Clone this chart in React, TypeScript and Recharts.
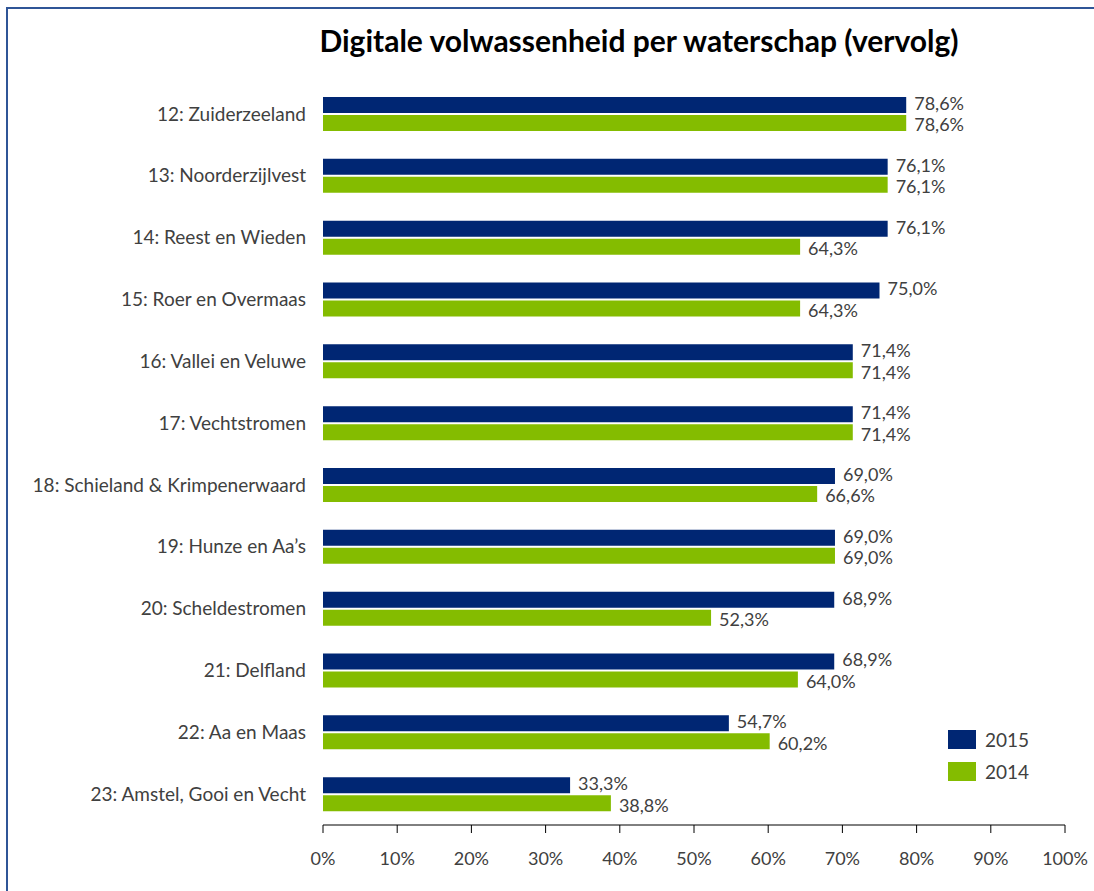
import React from 'react';
import {
  BarChart,
  Bar,
  XAxis,
  YAxis,
  LabelList
} from 'recharts';

const CATEGORIES = [
  '12: Zuiderzeeland',
  '13: Noorderzijlvest',
  '14: Reest en Wieden',
  '15: Roer en Overmaas',
  '16: Vallei en Veluwe',
  '17: Vechtstromen',
  '18: Schieland & Krimpenerwaard',
  '19: Hunze en Aa’s',
  '20: Scheldestromen',
  '21: Delfland',
  '22: Aa en Maas',
  '23: Amstel, Gooi en Vecht',
];

const VALUES_2015 = [78.6, 76.1, 76.1, 75.0, 71.4, 71.4, 69.0, 69.0, 68.9, 68.9, 54.7, 33.3];
const VALUES_2014 = [78.6, 76.1, 64.3, 64.3, 71.4, 71.4, 66.6, 69.0, 52.3, 64.0, 60.2, 38.8];

const X_TICKS = [0, 10, 20, 30, 40, 50, 60, 70, 80, 90, 100];

const SERIES = [
  { key: 'y2015', label: '2015' },
  { key: 'y2014', label: '2014' },
];

const NAVY = '#002673';
const GREEN = '#84bc00';
const TEXT = '#404040';
const FONT = 'Lato, "Open Sans", sans-serif';

const fmtPct = (v: number) => `${v.toFixed(1).replace('.', ',')}%`;

const chartData = CATEGORIES.map((name, i) => ({
  name,
  y2015: VALUES_2015[i],
  y2014: VALUES_2014[i],
}));

const colorOf = (key: string) => (key === 'y2015' ? NAVY : GREEN);

const App: React.FC = () => {
  return (
    <div
      style={{
        position: 'fixed',
        left: 0,
        top: 0,
        width: 1094,
        height: 891,
        overflow: 'hidden',
        background: '#ffffff',
      }}
    >
      {/* frame, only left and top edges are visible */}
      <div
        style={{
          position: 'absolute',
          left: 6,
          top: 7,
          width: 1200,
          height: 1000,
          borderLeft: '2px solid #2f5597',
          borderTop: '2px solid #2f5597',
        }}
      />
      <div
        style={{
          position: 'absolute',
          left: 239,
          top: 22,
          width: 800,
          textAlign: 'center',
          fontFamily: FONT,
          fontWeight: 700,
          fontSize: 30,
          color: '#000000',
        }}
      >
        Digitale volwassenheid per waterschap (vervolg)
      </div>
      <div style={{ position: 'absolute', left: 0, top: 0 }}>
        <BarChart
          width={1094}
          height={891}
          data={chartData}
          layout="vertical"
          margin={{ top: 83, right: 29, left: 0, bottom: 26 }}
          barSize={16}
          barGap={2}
        >
          <XAxis
            type="number"
            domain={[0, 100]}
            ticks={X_TICKS}
            tickFormatter={(v) => `${v}%`}
            axisLine={{ stroke: '#000000' }}
            tickLine={{ stroke: '#000000' }}
            tickSize={8}
            tickMargin={19}
            height={40}
            tick={{ fill: TEXT, fontSize: 18, fontFamily: FONT }}
          />
          <YAxis
            type="category"
            dataKey="name"
            width={323}
            axisLine={false}
            tickLine={false}
            tickSize={0}
            tickMargin={17}
            tick={{ fill: TEXT, fontSize: 19, fontFamily: FONT }}
          />
          <Bar dataKey="y2015" name="2015" fill={NAVY} isAnimationActive={false}>
            <LabelList
              dataKey="y2015"
              position="right"
              offset={8}
              formatter={(v: number) => fmtPct(v)}
              style={{ fill: TEXT, fontSize: 18, fontFamily: FONT, transform: 'translateY(-1.5px)' }}
            />
          </Bar>
          <Bar dataKey="y2014" name="2014" fill={GREEN} isAnimationActive={false}>
            <LabelList
              dataKey="y2014"
              position="right"
              offset={8}
              formatter={(v: number) => fmtPct(v)}
              style={{ fill: TEXT, fontSize: 18, fontFamily: FONT, transform: 'translateY(2px)' }}
            />
          </Bar>
        </BarChart>
      </div>
      {/* legend */}
      <div
        style={{
          position: 'absolute',
          left: 948,
          top: 730,
          fontFamily: FONT,
          fontSize: 19,
          color: TEXT,
        }}
      >
        {SERIES.map((s) => (
          <div key={s.key} style={{ display: 'flex', alignItems: 'center', height: 19, marginBottom: 13 }}>
            <div style={{ width: 28, height: 19, background: colorOf(s.key), marginRight: 9 }} />
            <span>{s.label}</span>
          </div>
        ))}
      </div>
    </div>
  );
};

export default App;
